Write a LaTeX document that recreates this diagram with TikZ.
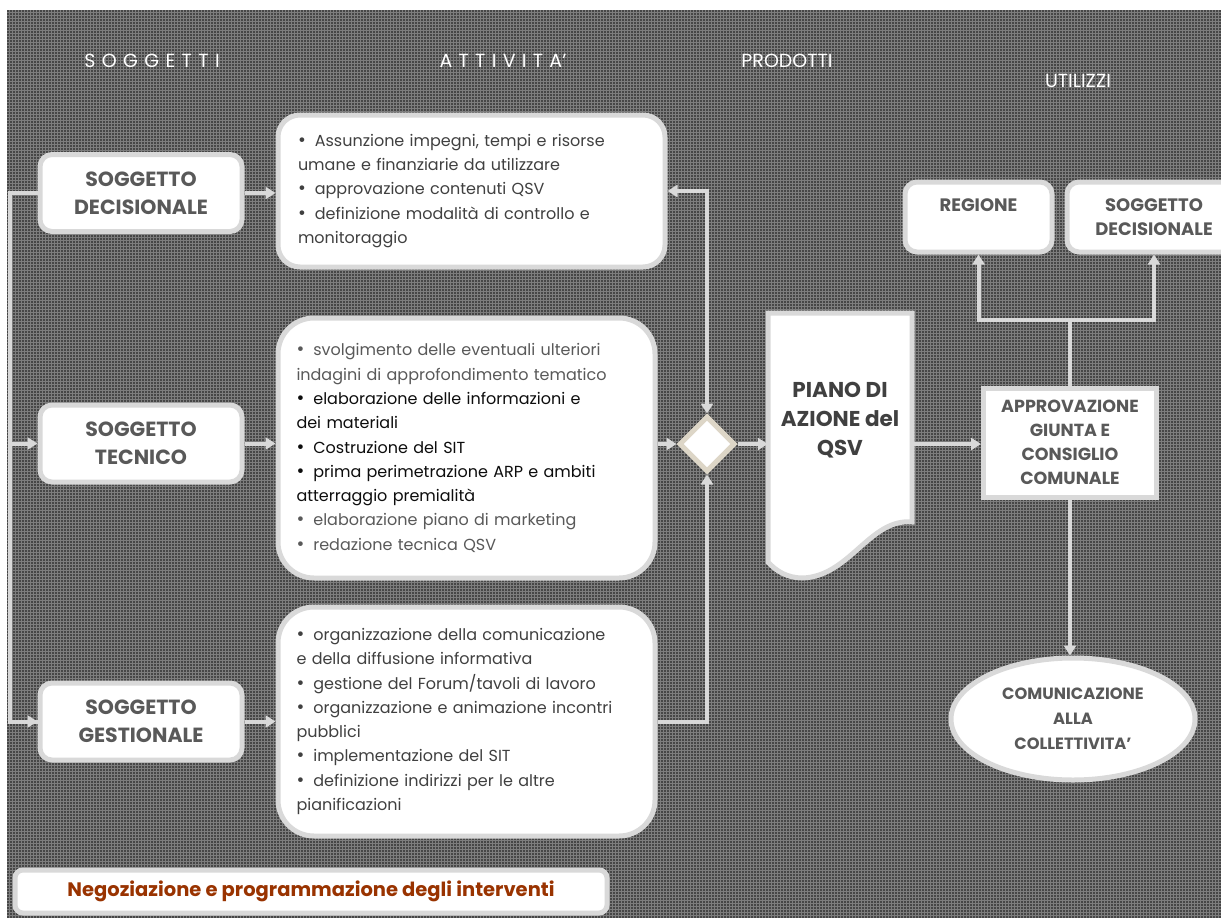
\documentclass[tikz,border=0pt]{standalone}
\usepackage{fontspec}
\setmainfont{Poppins}
\usetikzlibrary{arrows.meta,positioning,shapes.geometric,patterns,calc}

\definecolor{bgdark}{RGB}{70,70,70}
\definecolor{bglight}{RGB}{125,125,125}
\definecolor{edgegray}{RGB}{217,217,217}
\definecolor{labgray}{RGB}{89,89,89}
\definecolor{txtgray}{RGB}{64,64,64}
\definecolor{txtblack}{RGB}{13,13,13}
\definecolor{diatan}{RGB}{221,214,199}
\definecolor{negred}{RGB}{153,51,0}

\newcommand{\punto}{{\fontsize{19}{24}\selectfont\textbullet}\hspace{9pt}}

\tikzset{
	>={Triangle[length=10pt,width=12pt]}, x=1pt, y=-1pt,
	conn/.style={draw=edgegray, line width=4pt},
	box/.style={draw=edgegray, line width=5pt, fill=white, rounded corners=12pt, align=center, inner sep=0pt},
	sogg/.style={box, minimum width=202, minimum height=77, text=labgray, font=\bfseries\fontsize{20.5}{28}\selectfont},
	att/.style={box, rounded corners=36pt, align=left, text=txtgray, font=\fontsize{16}{24.3}\selectfont},
	uti/.style={box, text=labgray, font=\bfseries\fontsize{18}{24}\selectfont},
	head/.style={text=white, font=\fontsize{19}{20}\selectfont},
}

\begin{document}
\begin{tikzpicture}
	\useasboundingbox (0,0) rectangle (1221,918);
	% sfondo
	\fill[white] (0,0) rectangle (1221,918);
	\fill[bgdark] (7,10) rectangle (1221,918);
	\fill[pattern=grid, pattern color=bglight] (7,10) rectangle (1221,918);

	% intestazioni
	\node[head] (hsog) at (152,61) {\spaceskip=6.4pt S O G G E T T I};
	\node[head] (hatt) at (503,61) {\spaceskip=6.3pt A T T I V I T A’};
	\node[head] (hprod) at (787,61) {PRODOTTI};
	\node[head] (huti) at (1078,81) {UTILIZZI};

	% soggetti
	\node[sogg] (dec) at (141,193) {SOGGETTO\\DECISIONALE};
	\node[sogg] (tec) at (141,443.5) {SOGGETTO\\TECNICO};
	\node[sogg] (ges) at (141,721.5) {SOGGETTO\\GESTIONALE};

	% attivita'
	\node[att, rounded corners=22pt, minimum width=387, minimum height=152, text width=347] (a1) at (471.5,191) {%
		\punto Assunzione impegni, tempi e risorse\\
		umane e finanziarie da utilizzare\\
		\punto approvazione contenuti QSV\\
		\punto definizione modalità di controllo e\\
		monitoraggio};
	\node[att, minimum width=377, minimum height=260, text width=340] (a2) at (466.5,448) {%
		\textcolor{labgray}{\punto svolgimento delle eventuali ulteriori}\\
		\textcolor{labgray}{indagini di approfondimento tematico}\\
		\textcolor{txtblack}{\punto elaborazione delle informazioni e}\\
		\textcolor{txtblack}{dei materiali}\\
		\textcolor{txtblack}{\punto Costruzione del SIT}\\
		\textcolor{txtblack}{\punto prima perimetrazione ARP e ambiti}\\
		\textcolor{txtblack}{atterraggio premialità}\\
		\textcolor{labgray}{\punto elaborazione piano di marketing}\\
		\textcolor{labgray}{\punto redazione tecnica QSV}};
	\node[att, minimum width=377, minimum height=229, text width=340] (a3) at (466.5,721.5) {%
		\punto organizzazione della comunicazione\\
		e della diffusione informativa\\
		\punto gestione del Forum/tavoli di lavoro\\
		\punto organizzazione e animazione incontri\\
		pubblici\\
		\punto implementazione del SIT\\
		\punto definizione indirizzi per le altre\\
		pianificazioni};

	% prodotti
	\node[diamond, draw=diatan, line width=5pt, fill=white, minimum width=56, minimum height=56, inner sep=0pt] (dia) at (707,444) {};
	\node[inner sep=0pt, minimum width=144, minimum height=265] (piano) at (840,445.5) {};
	\draw[draw=edgegray, line width=5pt, fill=white] (768,313) -- (912,313) -- (912,522)
		.. controls (870,518) and (850,576) .. (803,578)
		.. controls (787,578) and (776,571) .. (768,562) -- cycle;
	\node[text=txtgray, align=center, font=\bfseries\fontsize{21.5}{29}\selectfont] (pianotxt) at ($(piano.center)+(0,-25)$) {PIANO DI\\AZIONE del\\QSV};

	% utilizzi
	\node[uti, rounded corners=0pt, minimum width=173, minimum height=109, font=\bfseries\fontsize{17.5}{24}\selectfont] (appr) at (1070,442.5) {APPROVAZIONE\\GIUNTA E\\CONSIGLIO\\COMUNALE};
	\node[uti, minimum width=147, minimum height=70] (reg) at (978.5,217) {REGIONE\\\mbox{}};
	\node[uti, minimum width=174, minimum height=70] (sd2) at (1154,217) {SOGGETTO\\DECISIONALE};
	\node[ellipse, draw=edgegray, line width=5pt, fill=white, minimum width=244, minimum height=122, inner sep=0pt, align=center, text=labgray, font=\bfseries\fontsize{16.3}{25}\selectfont] (comm) at (1073,719) {COMUNICAZIONE\\ALLA\\COLLETTIVITA’};

	% negoziazione
	\node[box, rounded corners=8pt, minimum width=592, minimum height=43, text=negred, font=\bfseries\fontsize{19.5}{20}\selectfont] (neg) at (311,891.5) {Negoziazione e programmazione degli interventi};

	% connettori
	\draw[conn] (dec.west) -- ++(-28,0) coordinate (lft) |- (ges.west);
	\draw[conn, ->] (ges.west) ++(-20,0) -- (ges.west);
	\draw[conn, ->] (lft |- tec.west) -- (tec.west);
	\draw[conn, ->] (dec.east) -- (dec.east -| a1.west);
	\draw[conn, ->] (tec.east) -- (tec.east -| a2.west);
	\draw[conn, ->] (ges.east) -- (ges.east -| a3.west);
	\draw[conn, <->] (a1.east) -| (dia.north);
	\draw[conn, ->] (dia.west -| a2.east) -- (dia.west);
	\draw[conn, <-] (dia.south) |- (a3.east);
	\draw[conn, ->] (dia.east) -- (dia.east -| piano.west);
	\draw[conn, ->] (dia.east -| piano.east) -- (dia.east -| appr.west);
	\draw[conn] (appr.north) -- ++(0,-66) coordinate (split);
	\draw[conn, ->] (split) -| (reg.south);
	\draw[conn, ->] (split) -| (sd2.south);
	\draw[conn, ->] (appr.south) -- (appr.south |- comm.north);
\end{tikzpicture}
\end{document}
